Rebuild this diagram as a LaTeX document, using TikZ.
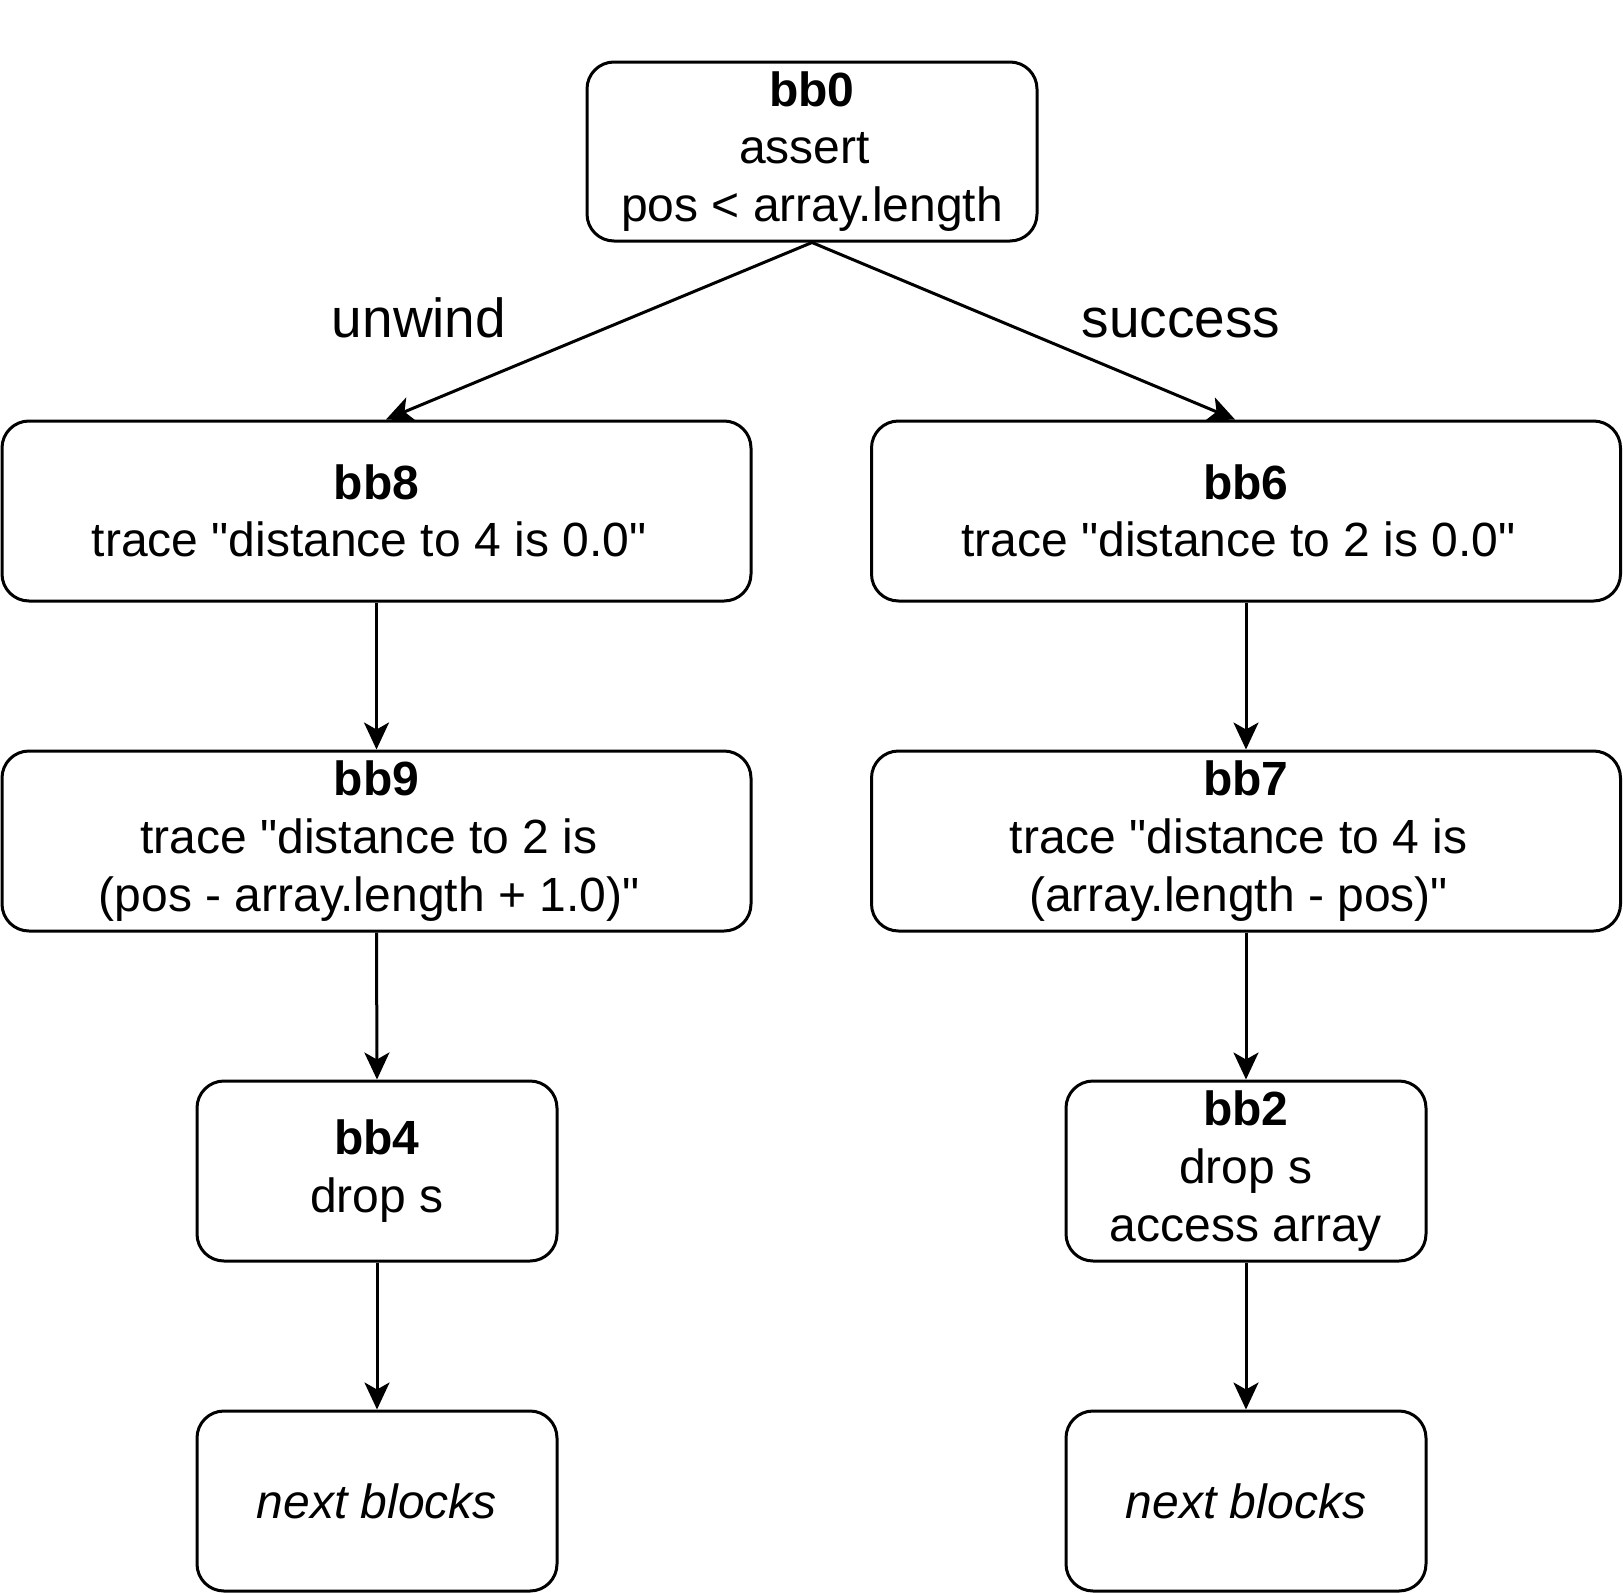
\documentclass[tikz,border=0pt]{standalone}
\usepackage{fontspec}
\setmainfont{Liberation Sans}[Ligatures=TeXOff]
\usetikzlibrary{arrows.meta}
\newcommand\trsp{\makebox[15pt]{}}
\tikzset{
  blk/.style={draw=black, line width=3pt, rounded corners=27pt, inner sep=0pt,
    align=center, font=\fontsize{48}{57.6}\selectfont},
  lbl/.style={inner sep=0pt, anchor=base, font=\fontsize{55}{66}\selectfont},
  arr/.style={line width=3pt, -{Stealth[length=27pt, width=25pt, inset=7pt]}}
}
\begin{document}
\begin{tikzpicture}[x=1pt, y=-1pt]
\useasboundingbox (0,0) rectangle (1623,1593);
\node[blk, minimum width=450pt, minimum height=179pt] (bb0) at (812,151.5)
  {\textbf{bb0}\\assert\trsp\\pos < array.length};
\node[blk, minimum width=749pt, minimum height=180pt] (bb8) at (376.5,511)
  {\textbf{bb8}\\trace "distance to 4 is 0.0"\trsp};
\node[blk, minimum width=749pt, minimum height=180pt] (bb6) at (1246,511)
  {\textbf{bb6}\\trace "distance to 2 is 0.0"\trsp};
\node[blk, minimum width=749pt, minimum height=180pt] (bb9) at (376.5,841)
  {\textbf{bb9}\\trace "distance to 2 is\trsp\\(pos - array.length + 1.0)"\trsp};
\node[blk, minimum width=749pt, minimum height=180pt] (bb7) at (1246,841)
  {\textbf{bb7}\\trace "distance to 4 is\trsp\\(array.length - pos)"\trsp};
\node[blk, minimum width=360pt, minimum height=180pt] (bb4) at (377,1171)
  {\textbf{bb4}\\drop s};
\node[blk, minimum width=360pt, minimum height=180pt] (bb2) at (1246,1171)
  {\textbf{bb2}\\drop s\\access array};
\node[blk, minimum width=360pt, minimum height=180pt] (n1) at (377,1501)
  {\textit{next blocks}};
\node[blk, minimum width=360pt, minimum height=180pt] (n2) at (1246,1501)
  {\textit{next blocks}};
\node[lbl] (lu) at (419,337) {unwind};
\node[lbl] (ls) at (1181,337) {success};
\draw[arr] (bb0.south) -- ([xshift=9.5pt]bb8.north);
\draw[arr] (bb0.south) -- ([xshift=-11pt]bb6.north);
\draw[arr] (bb8) -- (bb9);
\draw[arr] (bb6) -- (bb7);
\draw[arr] (bb9.south) -- (bb4.north);
\draw[arr] (bb7.south) -- (bb2.north);
\draw[arr] (bb4) -- (n1);
\draw[arr] (bb2) -- (n2);
\end{tikzpicture}
\end{document}
